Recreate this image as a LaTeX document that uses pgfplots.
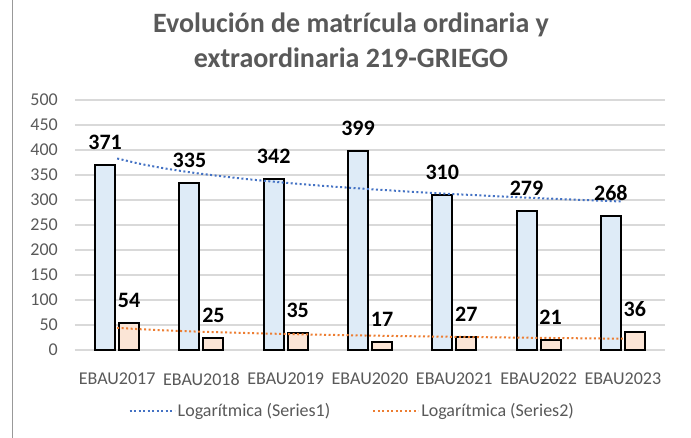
\documentclass[border=0pt]{standalone}
\usepackage{pgfplots}
\pgfplotsset{compat=1.18}
\usepackage{fontspec}
\setmainfont{Carlito}
\definecolor{txtgray}{HTML}{595959}
\definecolor{gridgray}{HTML}{D9D9D9}
\definecolor{bluefill}{HTML}{DEEBF7}
\definecolor{orangefill}{HTML}{FBE5D6}
\definecolor{trendblue}{HTML}{4472C4}
\definecolor{trendorange}{HTML}{ED7D31}
\begin{document}
\begin{tikzpicture}
\useasboundingbox (-75bp,-88bp) rectangle (616bp,350bp);
\fill[white] (-75bp,-88bp) rectangle (616bp,350bp);
\draw[gray!80, line width=1bp] (-62bp,-88bp) -- (-62bp,350bp);
\node[font=\fontsize{28bp}{35bp}\selectfont\bfseries, text=txtgray, align=center] at (276bp,310bp) {Evolución de matrícula ordinaria y\\extraordinaria 219-GRIEGO};
\begin{axis}[at={(0,0)}, anchor=south west, scale only axis, width=590bp, height=250bp,
  xmin=-0.5, xmax=6.5, ymin=0, ymax=500,
  xtick={0,1,2,3,4,5,6},
  xticklabels={EBAU2017,EBAU2018,EBAU2019,EBAU2020,EBAU2021,EBAU2022,EBAU2023},
  ytick={0,50,...,500},
  /pgf/number format/assume math mode=true,
  axis lines*=left,
  y axis line style={draw=none},
  x axis line style={gridgray, line width=1.5bp},
  major tick length=0pt,
  ymajorgrids, grid style={gridgray, line width=1.5bp},
  tick label style={font=\fontsize{18bp}{20bp}\selectfont, text=txtgray},
  yticklabel style={anchor=east, inner sep=0pt, xshift=-17bp},
  xticklabel style={anchor=north, inner sep=0pt, yshift=-23bp},
  legend style={at={(axis description cs:0.47,0)}, anchor=center, yshift=-61bp, draw=none, fill=none,
    font=\fontsize{18bp}{20bp}\selectfont, text=txtgray,
    /tikz/every even column/.append style={column sep=40bp}},
  legend columns=2,
  legend image code/.code={\draw[#1] (0bp,0bp) -- (45bp,0bp);},
]
\addplot[ybar, bar width=20bp, bar shift=-12bp, fill=bluefill, draw=black, line width=2bp, forget plot,
  nodes near coords, every node near coord/.append style={font=\fontsize{22bp}{24bp}\selectfont\bfseries, text=black, inner sep=0pt, yshift=14bp, xshift=-12bp, anchor=south}]
  coordinates {(0,371) (1,335) (2,342) (3,399) (4,310) (5,279) (6,268)};
\addplot[ybar, bar width=20bp, bar shift=12bp, fill=orangefill, draw=black, line width=2bp, forget plot,
  nodes near coords, every node near coord/.append style={font=\fontsize{22bp}{24bp}\selectfont\bfseries, text=black, inner sep=0pt, yshift=14bp, xshift=12bp, anchor=south}]
  coordinates {(0,54) (1,25) (2,35) (3,17) (4,27) (5,21) (6,36)};
\addplot[trendblue, line width=2bp, dash pattern=on 2bp off 2.5bp, smooth]
  coordinates {(0,383.07) (0.25,373.19) (0.5,365.12) (0.75,358.29) (1,352.38) (1.5,342.50) (2,334.42) (2.5,327.60) (3,321.68) (3.5,316.47) (4,311.80) (4.5,307.59) (5,303.73) (5.5,300.19) (6,296.90)};
\addlegendentry{Logarítmica (Series1)}
\addplot[trendorange, line width=2bp, dash pattern=on 2bp off 2.5bp, smooth]
  coordinates {(0,44.28) (0.25,41.79) (0.5,39.76) (0.75,38.05) (1,36.56) (1.5,34.07) (2,32.04) (2.5,30.32) (3,28.84) (3.5,27.52) (4,26.35) (4.5,25.29) (5,24.32) (5.5,23.43) (6,22.60)};
\addlegendentry{Logarítmica (Series2)}
\end{axis}
\end{tikzpicture}
\end{document}
